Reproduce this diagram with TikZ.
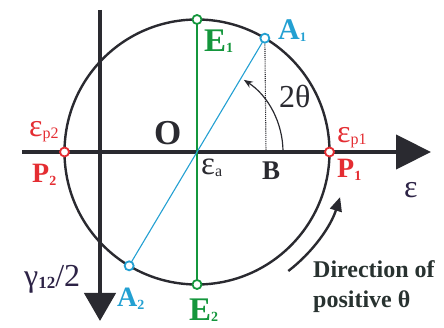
\documentclass[tikz,border=0pt]{standalone}
\usepackage{fontspec}
\setmainfont{Liberation Serif}
\usetikzlibrary{arrows.meta,calc}
\definecolor{mred}{RGB}{228,45,50}
\definecolor{mblue}{RGB}{35,160,210}
\definecolor{mgreen}{RGB}{20,150,60}
\definecolor{mdark}{RGB}{42,42,48}
\definecolor{mtext}{RGB}{40,50,48}
\definecolor{mink}{RGB}{45,35,70}
\newcommand\lowsub[3]{\raisebox{#1}{\fontsize{#2}{#2}\selectfont #3}}
\newcommand\fs[1]{\fontsize{#1}{#1}\selectfont}
\begin{document}
\begin{tikzpicture}[x=1pt,y=-1pt,
  axis/.style={line width=4.5pt,draw=mdark},
  mohr/.style={line width=2.4pt,draw=mdark},
  marker/.style={circle,minimum size=9pt,inner sep=0pt,line width=1.8pt,fill=white},
  lbl/.style={inner sep=0pt,anchor=base west},
  thinline/.style={line width=1.1pt}]
\useasboundingbox (0,0) rectangle (444,328);
% coordinates
\coordinate (ctr) at (197,152);
\coordinate (hL) at (22,152);
\coordinate (hR) at (431,152);
\coordinate (vT) at (100,10);
\coordinate (vB) at (100,321);
\coordinate (Bft) at (266,152);
% circle
\draw[mohr] (ctr) circle[radius=132.5];
% axes
\draw[axis,-{Triangle[length=35pt,width=34pt]}] (hL) -- (hR);
\draw[axis,-{Triangle[length=28pt,width=31pt]}] (vT) -- (vB);
% markers positions
\coordinate (E1) at (197,19.5);
\coordinate (E2) at (197,284.5);
\coordinate (A1) at ($(ctr)+(-59.2:132.5)$);
\coordinate (A2) at ($(ctr)+(120.8:132.5)$);
\coordinate (P1) at (329.5,152);
\coordinate (P2) at (64.5,152);
% lines
\draw[thinline,mgreen] (E1) -- (E2);
\draw[thinline,mblue] (A1) -- (A2);
\draw[thinline,mdark,densely dotted] (A1) -- (Bft);
% 2theta arc
\draw[line width=1.2pt,mdark,-{Stealth[length=9pt,width=7pt]}] ($(ctr)+(0:86)$) arc[start angle=0,end angle=-57,radius=86];
% direction arrow
\draw[line width=2.4pt,mdark,-{Triangle[length=14pt,width=12pt]}] ($(ctr)+(52.5:150)$) arc[start angle=52.5,end angle=17.5,radius=150];
% markers
\node[marker,draw=mgreen] (mE1) at (E1) {};
\node[marker,draw=mgreen] (mE2) at (E2) {};
\node[marker,draw=mblue] (mA1) at (A1) {};
\node[marker,draw=mblue] (mA2) at (A2) {};
\node[marker,draw=mred] (mP1) at (P1) {};
\node[marker,draw=mred] (mP2) at (P2) {};
% labels
\node[lbl,text=mgreen] (tE1) at (204,52) {\fs{33}\bfseries E\lowsub{-1pt}{14}{1}};
\node[lbl,text=mblue] (tA1) at (278,40) {\fs{30}\bfseries A\lowsub{-2pt}{13}{1}};
\node[lbl,text=mdark] (tO) at (154,145) {\fs{35}\bfseries O};
\node[lbl,text=mdark] (tea) at (201,175) {\fs{33}ε\lowsub{-2pt}{16}{a}};
\node[lbl,text=mdark] (tB) at (262,180) {\fs{27}\bfseries B};
\node[lbl,text=mred] (tep1) at (337,143) {\fs{32}ε\lowsub{-2pt}{16}{p1}};
\node[lbl,text=mred] (tP1) at (337,178) {\fs{28}\bfseries P\lowsub{-3pt}{14}{1}};
\node[lbl,text=mink] (teps) at (404,198) {\fs{32}ε};
\node[lbl,text=mred] (tep2) at (29,137) {\fs{32}ε\lowsub{-2pt}{16}{p2}};
\node[lbl,text=mred] (tP2) at (32,183) {\fs{28}\bfseries P\lowsub{-3pt}{14}{2}};
\node[lbl,text=mink] (tg) at (24,287) {\fs{32}γ\lowsub{-2pt}{17}{\bfseries 12}/2};
\node[lbl,text=mblue] (tA2) at (117,306) {\fs{28}\bfseries A\lowsub{-3pt}{14}{2}};
\node[lbl,text=mgreen] (tE2) at (189,320) {\fs{33}\bfseries E\lowsub{-1pt}{14}{2}};
\node[lbl,text=mdark] (t2th) at (279,108) {\fs{32}2θ};
\node[lbl,text=mtext] (tdir1) at (313,278) {\fs{24}\bfseries Direction of};
\node[lbl,text=mtext] (tdir2) at (313,308) {\fs{24}\bfseries positive θ};
\end{tikzpicture}
\end{document}
